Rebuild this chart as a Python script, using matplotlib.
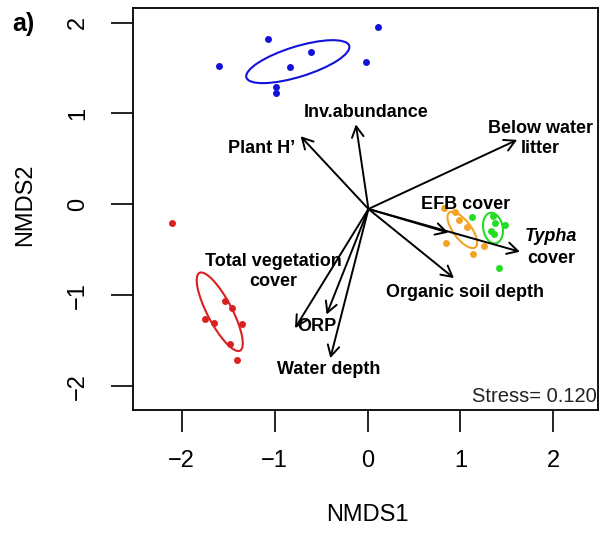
import numpy as np
import matplotlib
matplotlib.use("Agg")
import matplotlib.pyplot as plt
from matplotlib.patches import Ellipse

plt.rcParams['font.family'] = ['Liberation Sans', 'DejaVu Sans']
plt.rcParams['axes.unicode_minus'] = True

# site scores per group (NMDS1, NMDS2)
blue_x = [-1.60, -1.07, -0.61, -0.83, 0.11, -0.02, -0.98, -0.98]
blue_y = [1.52, 1.82, 1.68, 1.51, 1.95, 1.57, 1.29, 1.23]
red_x = [-2.10, -1.53, -1.46, -1.75, -1.65, -1.35, -1.48, -1.40]
red_y = [-0.20, -1.06, -1.14, -1.26, -1.30, -1.32, -1.53, -1.71]
orange_x = [0.82, 0.94, 0.98, 1.07, 0.84, 1.14, 1.25]
orange_y = [-0.04, -0.08, -0.17, -0.25, -0.42, -0.55, -0.46]
green_x = [1.12, 1.35, 1.37, 1.48, 1.33, 1.36, 1.41]
green_y = [-0.14, -0.13, -0.20, -0.23, -0.29, -0.33, -0.70]

# group ellipses: centre x, centre y, semi-major, semi-minor, angle (deg)
ell_cx = [-0.75, -1.59, 1.02, 1.35]
ell_cy = [1.57, -1.18, -0.28, -0.26]
ell_a = [0.58, 0.48, 0.237, 0.17]
ell_b = [0.166, 0.133, 0.097, 0.105]
ell_ang = [17.6, -63, -54, -80]
group_colors = ['#1212D8', '#DA2020', '#F4A324', '#22DD22']

# envfit vectors
vec_names = ['Plant H\u2019', 'Inv.abundance', 'Below water\nlitter', 'EFB cover',
             'Typha cover', 'Organic soil depth', 'Total vegetation\ncover',
             'ORP', 'Water depth']
vec_x = [-0.72, -0.125, 1.61, 0.87, 1.64, 0.93, -0.78, -0.44, -0.40]
vec_y = [0.75, 0.88, 0.71, -0.31, -0.52, -0.81, -1.36, -1.21, -1.69]
stress = 0.120

# where the vector labels sit
lab_x = [-1.137, -0.014, 1.859, 1.052, 1.977, 1.052, -1.016, -0.541, -0.423]
lab_y = [0.613, 1.01, 0.723, -0.003, -0.476, -0.971, -0.740, -1.345, -1.818]

fig = plt.figure(figsize=(6.01, 5.33), dpi=100)
ax = fig.add_axes([0.2218, 0.2308, 0.7732, 0.7542])

pts = [(blue_x, blue_y), (red_x, red_y), (orange_x, orange_y), (green_x, green_y)]
for (xs, ys), col in zip(pts, group_colors):
    ax.plot(xs, ys, 'o', color=col, ms=5, mec='none', zorder=3)

for cx, cy, a, b, ang, col in zip(ell_cx, ell_cy, ell_a, ell_b, ell_ang, group_colors):
    ax.add_patch(Ellipse((cx, cy), 2 * a, 2 * b, angle=ang, fill=False,
                         ec=col, lw=1.5, zorder=3))

ox, oy = 0.01, -0.05
for vx, vy in zip(vec_x, vec_y):
    ax.annotate('', xy=(vx, vy), xytext=(ox, oy),
                arrowprops=dict(arrowstyle='->,head_length=0.55,head_width=0.3',
                                lw=1.4, color='black', shrinkA=0, shrinkB=0,
                                mutation_scale=14), zorder=4)

for name, tx, ty in zip(vec_names, lab_x, lab_y):
    if name.startswith('Typha'):
        ax.text(tx, ty + 0.12, 'Typha', ha='center', va='center', fontsize=13,
                fontweight='bold', style='italic', zorder=5)
        ax.text(tx, ty - 0.115, 'cover', ha='center', va='center', fontsize=13,
                fontweight='bold', zorder=5)
    else:
        ax.text(tx, ty, name, ha='center', va='center', fontsize=13,
                fontweight='bold', linespacing=1.25, zorder=5)

ax.text(0.998, 0.033, 'Stress= %.3f' % stress, transform=ax.transAxes,
        ha='right', va='center', fontsize=14.5, color='#222222')

ax.set_xlim(-2.52, 2.48)
ax.set_ylim(-2.26, 2.16)
ax.set_xticks([-2, -1, 0, 1, 2])
ax.set_yticks([-2, -1, 0, 1, 2])
ax.set_yticklabels(['\u22122', '\u22121', '0', '1', '2'], rotation=90, va='center')
ax.tick_params(axis='x', length=16, width=1.2, labelsize=17, pad=13)
ax.tick_params(axis='y', length=16, width=1.2, labelsize=17, pad=16)
for s in ax.spines.values():
    s.set_linewidth(1.3)

fig.text(367 / 601, 1 - 515 / 533, 'NMDS1', ha='center', va='center', fontsize=17)
fig.text(25 / 601, 1 - 205 / 533, 'NMDS2', ha='center', va='center', fontsize=17,
         rotation=90)
fig.text(23 / 601, 1 - 24 / 533, 'a)', ha='center', va='center', fontsize=18,
         fontweight='bold')

fig.savefig('out.png', dpi=100)
